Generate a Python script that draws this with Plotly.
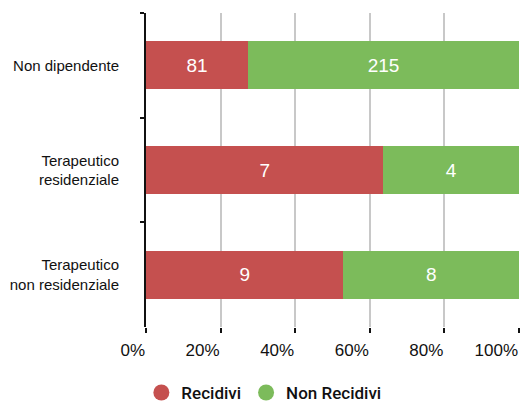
import plotly.graph_objects as go

categories = ["Non dipendente", "Terapeutico<br>residenziale", "Terapeutico<br>non residenziale"]
recidivi = [81, 7, 9]
non_recidivi = [215, 4, 8]
x_ticks = [0, 20, 40, 60, 80, 100]
x_tick_labels = ["0%", "20%", "40%", "60%", "80%", "100%"]

RED = "#c5504f"
GREEN = "#7cbb5b"

fig = go.Figure()
for name, vals, color in [("Recidivi", recidivi, RED), ("Non Recidivi", non_recidivi, GREEN)]:
    fig.add_trace(go.Bar(
        y=categories, x=vals, orientation="h", name=name,
        marker=dict(color=color, line=dict(width=0)),
        text=[str(v) for v in vals], textposition="inside",
        insidetextanchor="middle",
        textfont=dict(color="white", size=19, family="Liberation Sans, Arial, sans-serif"),
        showlegend=False, hoverinfo="skip",
    ))
    # round legend swatch
    fig.add_trace(go.Scatter(
        x=[None], y=[None], mode="markers", name=name,
        marker=dict(color=color, size=18, symbol="circle"),
        showlegend=True,
    ))

fig.update_layout(
    width=532, height=402,
    margin=dict(l=146, r=13, t=13, b=75, autoexpand=False),
    barmode="stack", barnorm="percent", bargap=0.54,
    plot_bgcolor="white", paper_bgcolor="white",
    font=dict(family="Liberation Sans, Arial, sans-serif", color="#111111"),
    showlegend=True,
    legend=dict(
        orientation="h", traceorder="normal",
        x=0.316, xanchor="center", y=-0.21, yanchor="middle",
        font=dict(size=17, family="Roboto, sans-serif",
                  color="#111111", weight=500),
        itemsizing="trace", itemwidth=30, tracegroupgap=0,
    ),
)
fig.update_xaxes(
    range=[0, 100], tickvals=x_ticks, ticktext=x_tick_labels,
    showgrid=True, gridcolor="#c8c8c8", gridwidth=2,
    showline=False, zeroline=False,
    ticks="outside", ticklen=5, tickcolor="#111111", tickwidth=2,
    ticklabelposition="outside left", ticklabelstandoff=8,
    tickfont=dict(size=17), fixedrange=True,
)
fig.update_yaxes(
    categoryorder="array", categoryarray=categories, autorange="reversed",
    showline=True, linecolor="#111111", linewidth=2,
    ticks="outside", tickson="boundaries", ticklen=4, tickcolor="#111111", tickwidth=2,
    showgrid=False, tickfont=dict(size=15), ticklabelstandoff=22,
)

fig.write_html("out.html")
